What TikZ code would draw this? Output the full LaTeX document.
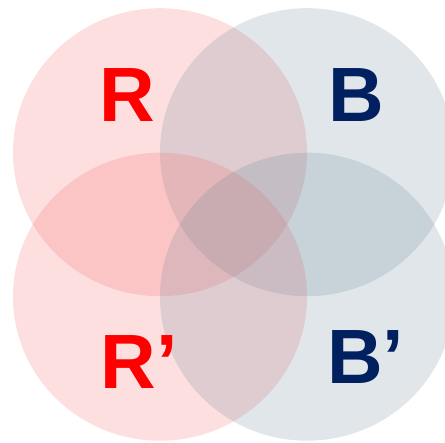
\documentclass[tikz,border=0pt]{standalone}
\usepackage{fontspec}
\setmainfont{Liberation Sans}
\usetikzlibrary{shapes.geometric}
\definecolor{rfill}{RGB}{245,95,95}
\definecolor{bfill}{RGB}{100,130,150}
\definecolor{rtext}{RGB}{255,0,0}
\definecolor{btext}{RGB}{0,32,96}
\tikzset{
  disc/.style={ellipse, inner sep=0pt, minimum width=294pt, minimum height=288pt, draw=none},
  rdisc/.style={disc, fill=rfill, fill opacity=0.2},
  bdisc/.style={disc, fill=bfill, fill opacity=0.2},
  lbl/.style={inner sep=0pt, font=\fontsize{77}{80}\selectfont\bfseries}
}
\begin{document}
\begin{tikzpicture}[x=1pt,y=1pt]
\useasboundingbox (0,0) rectangle (445,-443);
\node[rdisc] (cR) at (160,-152.2) {};
\node[bdisc] (cB) at (307,-152.2) {};
\node[rdisc] (cRp) at (160,-296.7) {};
\node[bdisc] (cBp) at (307,-296.7) {};
\node[lbl, text=rtext] (tR) at (127.5,-95.5) {R};
\node[lbl, text=btext] (tB) at (356.5,-95) {B};
\node[lbl, text=rtext] (tRp) at (139,-362.5) {R’};
\node[lbl, text=btext] (tBp) at (365.5,-357) {B’};
\end{tikzpicture}
\end{document}
